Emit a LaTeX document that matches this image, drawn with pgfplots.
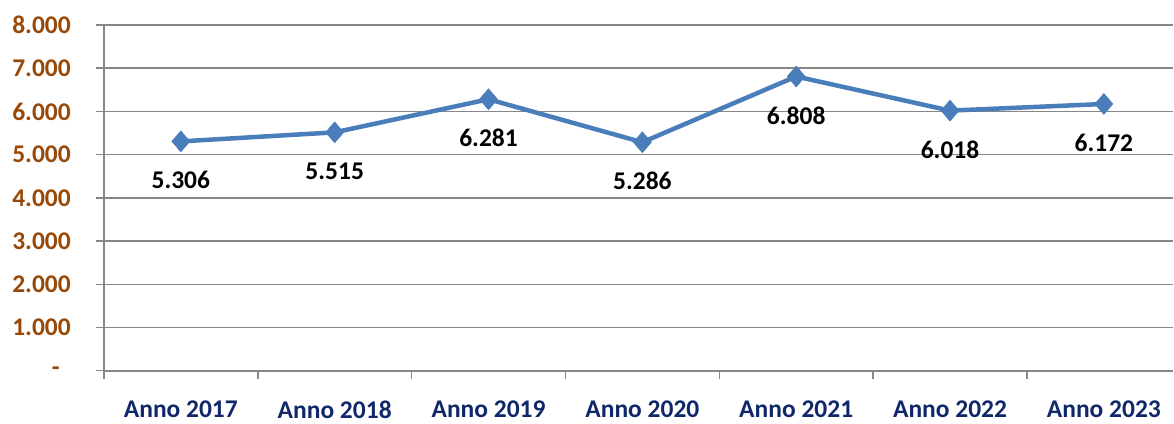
\documentclass[border=0pt]{standalone}
\usepackage{pgfplots}
\pgfplotsset{compat=1.18}
\usepackage{fontspec}
\setmainfont{Carlito}
\definecolor{serie}{HTML}{4A7EBB}
\definecolor{ylab}{HTML}{984807}
\definecolor{xlab}{HTML}{10286A}
\definecolor{gridc}{HTML}{878787}
\newcommand\lab{\fontsize{25.5bp}{30bp}\selectfont\bfseries}
\begin{document}
\begin{tikzpicture}
\begin{axis}[
 scale only axis, width=1070bp, height=346bp,
 xmin=-0.5, xmax=6.45, ymin=0, ymax=8000,
 axis x line*=bottom, axis y line*=left,
 axis line style={draw=gridc, line width=1.8bp, -},
 ytick={0,1000,2000,...,8000},
 yticklabels={{},1.000,2.000,3.000,4.000,5.000,6.000,7.000,8.000},
 ymajorgrids, major grid style={draw=gridc, line width=1.5bp},
 xtick={-0.5,0.5,1.5,2.5,3.5,4.5,5.5},
 xticklabels={},
 extra x ticks={0,1,2,3,4,5,6},
 extra x tick labels={Anno 2017,Anno 2018,Anno 2019,Anno 2020,Anno 2021,Anno 2022,Anno 2023},
 extra x tick style={major tick length=0pt, xticklabel style={font=\lab, text=xlab, anchor=north, inner sep=0pt, yshift=-30bp}},
 tick align=outside,
 major tick length=8bp,
 tick style={draw=gridc, line width=1.5bp},
 yticklabel style={font=\lab, text=ylab, anchor=east, inner sep=0pt, xshift=-25bp},
]
\addplot[serie, line width=4.5bp, mark=diamond*, mark size=10.5bp,
 mark options={solid, fill=serie, draw=serie, line width=0.5bp, xscale=1.15},
 nodes near coords, point meta=explicit symbolic,
 every node near coord/.style={anchor=center, yshift=-39bp, font=\lab, text=black}]
 table[meta=lab]{
x y lab
0 5306 5.306
1 5515 5.515
2 6281 6.281
3 5286 5.286
4 6808 6.808
5 6018 6.018
6 6172 6.172
};
\end{axis}
\node[font=\lab, text=ylab, anchor=east, inner sep=0pt] at ([xshift=-44bp,yshift=-1bp]current axis.south west) {-};
\path (current axis.south west) ++(-104bp,-53bp);
\path (current axis.north east) ++(0bp,25bp);
\end{tikzpicture}
\end{document}
